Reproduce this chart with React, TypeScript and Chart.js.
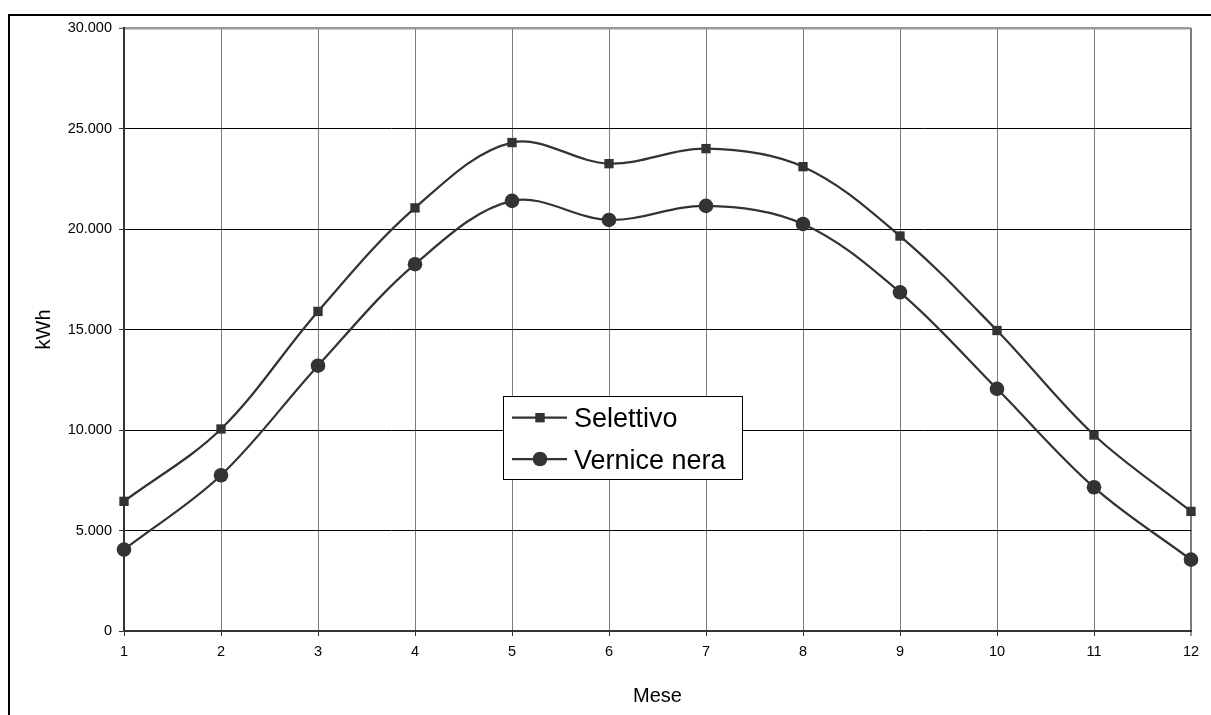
import React, { useEffect, useRef } from "react";
import { Chart, registerables } from "chart.js";

Chart.register(...registerables);

const months = ["1", "2", "3", "4", "5", "6", "7", "8", "9", "10", "11", "12"];
const selettivo = [6450, 10050, 15900, 21050, 24300, 23250, 24000, 23100, 19650, 14950, 9750, 5950];
const verniceNera = [4050, 7750, 13200, 18250, 21400, 20450, 21150, 20250, 16850, 12050, 7150, 3550];
const seriesLabels = ["Selettivo", "Vernice nera"];
const yTitle = "kWh";
const xTitle = "Mese";

const FONT = "'Liberation Sans', Arial, sans-serif";
const INK = "#333333";

const fmt = (v: number) => String(v).replace(/\B(?=(\d{3})+(?!\d))/g, ".");

const legendPlugin = {
  id: "boxLegend",
  afterDatasetsDraw(chart: any) {
    const ctx = chart.ctx;
    const bx = 503.5, by = 396.5, bw = 239, bh = 83;
    ctx.save();
    ctx.fillStyle = "#ffffff";
    ctx.fillRect(bx, by, bw, bh);
    ctx.strokeStyle = "#000000";
    ctx.lineWidth = 1;
    ctx.strokeRect(bx, by, bw, bh);
    const rows = [417.7, 459];
    chart.data.datasets.forEach((ds: any, i: number) => {
      const y = rows[i];
      ctx.strokeStyle = INK;
      ctx.lineWidth = 2.25;
      ctx.beginPath();
      ctx.moveTo(512, y);
      ctx.lineTo(567, y);
      ctx.stroke();
      ctx.fillStyle = INK;
      if (ds.pointStyle === "rect") {
        ctx.fillRect(540 - 4.7, y - 4.7, 9.4, 9.4);
      } else {
        ctx.beginPath();
        ctx.arc(540, y, 7.3, 0, Math.PI * 2);
        ctx.fill();
      }
      ctx.fillStyle = "#000000";
      ctx.font = `27px ${FONT}`;
      ctx.textBaseline = "alphabetic";
      ctx.textAlign = "left";
      ctx.fillText(ds.label, 574, i === 0 ? 426.5 : 468.5);
    });
    ctx.restore();
  },
};

export default function App() {
  const ref = useRef<HTMLCanvasElement | null>(null);
  useEffect(() => {
    if (!ref.current) return;
    const chart = new Chart(ref.current, {
      type: "line",
      data: {
        labels: months,
        datasets: [
          {
            label: seriesLabels[0],
            data: selettivo,
            borderColor: INK,
            backgroundColor: INK,
            borderWidth: 2.25,
            pointStyle: "rect",
            pointRadius: 6.6,
            pointBorderWidth: 0,
            pointBackgroundColor: INK,
            tension: 0.35,
            clip: false as any,
          },
          {
            label: seriesLabels[1],
            data: verniceNera,
            borderColor: INK,
            backgroundColor: INK,
            borderWidth: 2.25,
            pointStyle: "circle",
            pointRadius: 7.3,
            pointBorderWidth: 0,
            pointBackgroundColor: INK,
            tension: 0.35,
            clip: false as any,
          },
        ],
      },
      options: {
        responsive: false,
        animation: false,
        layout: { padding: { top: 28, right: 20, bottom: 0, left: 0 } },
        plugins: {
          legend: { display: false },
          tooltip: { enabled: false },
        },
        scales: {
          x: {
            type: "category",
            offset: false,
            grid: {
              color: "#7a7a7a",
              lineWidth: (c: any) => (c.index === months.length - 1 ? 2 : 1),
              tickLength: 5,
              tickColor: INK,
              tickWidth: 1,
            } as any,
            border: { color: INK, width: 2 },
            ticks: {
              color: "#000",
              font: { family: FONT, size: 14.5 },
              padding: 7,
              maxRotation: 0,
              autoSkip: false,
            },
            title: {
              display: true,
              text: xTitle,
              color: "#000",
              font: { family: FONT, size: 20 },
              padding: { top: 0, bottom: 7 },
            },
            afterFit: (s: any) => {
              s.height = 84;
            },
          },
          y: {
            min: 0,
            max: 30000,
            grid: {
              color: (c: any) => (c.tick && c.tick.value === 30000 ? "#9a9a9a" : "#000000"),
              lineWidth: (c: any) => (c.tick && c.tick.value === 30000 ? 2.5 : 1),
              tickLength: 5,
              tickColor: INK,
              tickWidth: 1,
            } as any,
            border: { color: INK, width: 2 },
            ticks: {
              stepSize: 5000,
              color: "#000",
              font: { family: FONT, size: 14.5 },
              padding: 7,
              callback: (v: any) => fmt(Number(v)),
            },
            title: {
              display: true,
              text: yTitle,
              color: "#000",
              font: { family: FONT, size: 20 },
              padding: { top: 32, bottom: 0 },
            },
            afterFit: (s: any) => {
              s.width = 124;
            },
          },
        },
      },
      plugins: [legendPlugin],
    });
    return () => chart.destroy();
  }, []);

  return (
    <div
      style={{
        position: "fixed",
        left: 0,
        top: 0,
        width: 1211,
        height: 715,
        overflow: "hidden",
        background: "#fff",
      }}
    >
      <div
        style={{
          position: "absolute",
          left: 8,
          top: 14,
          width: 1400,
          height: 900,
          border: "2px solid #000",
          boxSizing: "border-box",
        }}
      />
      <canvas
        ref={ref}
        width={1211}
        height={715}
        style={{ position: "absolute", left: 0, top: 0, width: 1211, height: 715 }}
      />
    </div>
  );
}
